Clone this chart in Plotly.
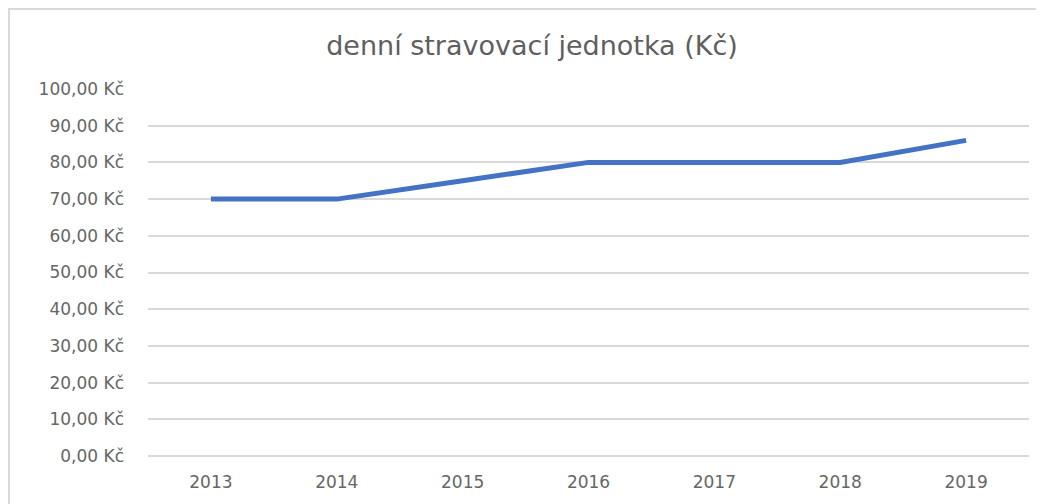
import plotly.graph_objects as go

years = ["2013", "2014", "2015", "2016", "2017", "2018", "2019"]
values = [70, 70, 75, 80, 80, 80, 86]
tick_vals = [0, 10, 20, 30, 40, 50, 60, 70, 80, 90, 100]
tick_text = ["0,00 Kč", "10,00 Kč", "20,00 Kč", "30,00 Kč", "40,00 Kč", "50,00 Kč",
             "60,00 Kč", "70,00 Kč", "80,00 Kč", "90,00 Kč", "100,00 Kč"]
title = "denní stravovací jednotka (Kč)"

W, H = 1036, 496
L, R, T, B = 140, 15, 81, 48
PW, PH = W - L - R, H - T - B

fig = go.Figure()
fig.add_trace(go.Scatter(x=years, y=values, mode="lines",
                         line=dict(color="#4472C4", width=5)))

fig.update_layout(
    width=W, height=H,
    margin=dict(l=L, r=R, t=T, b=B),
    paper_bgcolor="white", plot_bgcolor="white",
    showlegend=False,
    title=dict(text=title, x=524 / W, xref="container", xanchor="center",
               y=1 - 38 / H, yanchor="middle",
               font=dict(family="DejaVu Sans", size=27, color="#5f5f5f")),
    xaxis=dict(type="category", showgrid=False, showline=False, ticks="",
               tickfont=dict(family="DejaVu Sans", size=17, color="#666666"),
               range=[-0.5, 6.5], ticklabelstandoff=14),
    yaxis=dict(range=[0, 100], tickvals=tick_vals, ticktext=tick_text,
               showgrid=True, gridcolor="#D9D9D9", gridwidth=1.5,
               zeroline=True, zerolinecolor="#D9D9D9", zerolinewidth=1.5,
               showline=False, ticks="",
               tickfont=dict(family="DejaVu Sans", size=17, color="#666666"),
               ticklabelstandoff=23),
    shapes=[dict(type="rect", xref="paper", yref="paper",
                 x0=-139 / PW, x1=1 + 12 / PW, y0=-60 / PH, y1=1 + 80 / PH,
                 line=dict(color="#D9D9D9", width=2), fillcolor="rgba(0,0,0,0)",
                 layer="below")],
)

fig.write_html("out.html")
